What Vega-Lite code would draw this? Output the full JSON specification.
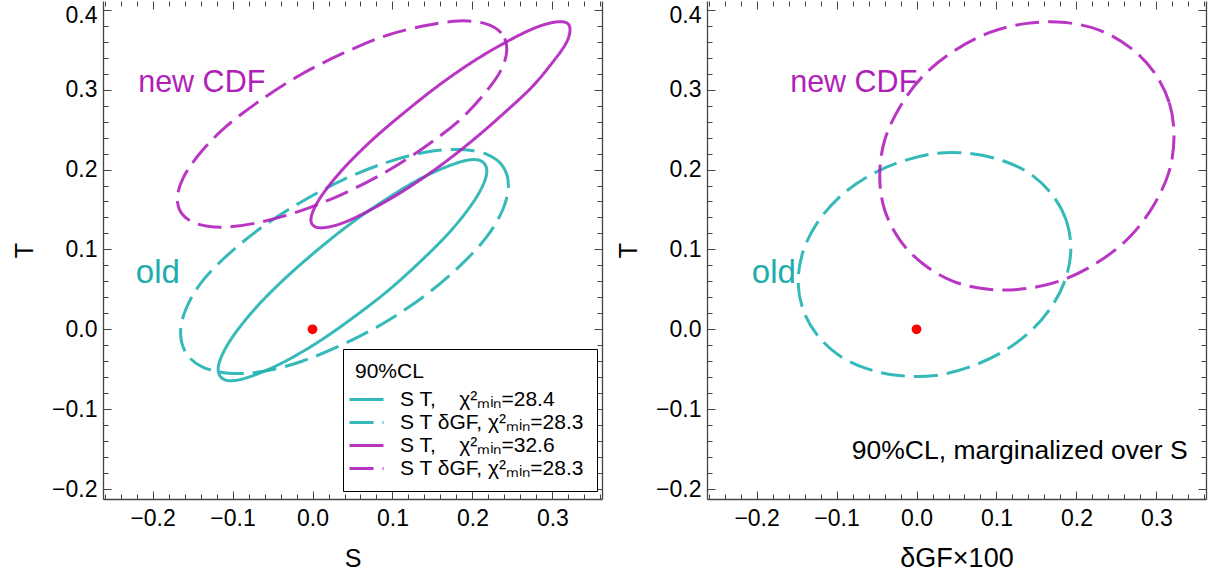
{
  "$schema": "https://vega.github.io/schema/vega-lite/v6.json",
  "padding": {"left": 12, "top": 0, "right": 5, "bottom": 5},
  "background": "white",
  "bounds": "flush",
  "spacing": 105,
  "config": {
    "font": "Liberation Sans",
    "view": {"stroke": null},
    "axis": {"domainColor": "#444444", "tickColor": "#444444", "domainWidth": 1.3, "tickWidth": 1, "labelColor": "black", "labelFontSize": 23, "titleFontSize": 25, "titleFontWeight": "normal", "titleColor": "black", "grid": false, "labelFlush": false, "labelOverlap": false}
  },
  "resolve": {"scale": {"x": "independent", "y": "independent"}},
  "datasets": {
    "left": [
      {"s":"ST_old","i":0,"S":0.218,"T":0.198},{"s":"ST_old","i":1,"S":0.212,"T":0.210},{"s":"ST_old","i":2,"S":0.196,"T":0.212},{"s":"ST_old","i":3,"S":0.169,"T":0.204},{"s":"ST_old","i":4,"S":0.134,"T":0.188},{"s":"ST_old","i":5,"S":0.094,"T":0.164},{"s":"ST_old","i":6,"S":0.050,"T":0.134},{"s":"ST_old","i":7,"S":0.007,"T":0.100},{"s":"ST_old","i":8,"S":-0.034,"T":0.064},{"s":"ST_old","i":9,"S":-0.069,"T":0.029},{"s":"ST_old","i":10,"S":-0.096,"T":-0.004},{"s":"ST_old","i":11,"S":-0.112,"T":-0.030},{"s":"ST_old","i":12,"S":-0.118,"T":-0.050},{"s":"ST_old","i":13,"S":-0.112,"T":-0.062},{"s":"ST_old","i":14,"S":-0.096,"T":-0.064},{"s":"ST_old","i":15,"S":-0.069,"T":-0.056},{"s":"ST_old","i":16,"S":-0.034,"T":-0.040},{"s":"ST_old","i":17,"S":0.007,"T":-0.016},{"s":"ST_old","i":18,"S":0.050,"T":0.014},{"s":"ST_old","i":19,"S":0.094,"T":0.048},{"s":"ST_old","i":20,"S":0.134,"T":0.084},{"s":"ST_old","i":21,"S":0.169,"T":0.119},{"s":"ST_old","i":22,"S":0.196,"T":0.152},{"s":"ST_old","i":23,"S":0.212,"T":0.178},
      {"s":"STG_old","i":0,"S":0.245,"T":0.180},{"s":"STG_old","i":1,"S":0.238,"T":0.204},{"s":"STG_old","i":2,"S":0.218,"T":0.219},{"s":"STG_old","i":3,"S":0.185,"T":0.225},{"s":"STG_old","i":4,"S":0.143,"T":0.222},{"s":"STG_old","i":5,"S":0.093,"T":0.209},{"s":"STG_old","i":6,"S":0.040,"T":0.188},{"s":"STG_old","i":7,"S":-0.013,"T":0.160},{"s":"STG_old","i":8,"S":-0.063,"T":0.128},{"s":"STG_old","i":9,"S":-0.105,"T":0.094},{"s":"STG_old","i":10,"S":-0.138,"T":0.060},{"s":"STG_old","i":11,"S":-0.158,"T":0.026},{"s":"STG_old","i":12,"S":-0.165,"T":-0.004},{"s":"STG_old","i":13,"S":-0.158,"T":-0.030},{"s":"STG_old","i":14,"S":-0.138,"T":-0.047},{"s":"STG_old","i":15,"S":-0.105,"T":-0.055},{"s":"STG_old","i":16,"S":-0.063,"T":-0.053},{"s":"STG_old","i":17,"S":-0.013,"T":-0.040},{"s":"STG_old","i":18,"S":0.040,"T":-0.018},{"s":"STG_old","i":19,"S":0.093,"T":0.010},{"s":"STG_old","i":20,"S":0.143,"T":0.044},{"s":"STG_old","i":21,"S":0.185,"T":0.080},{"s":"STG_old","i":22,"S":0.218,"T":0.116},{"s":"STG_old","i":23,"S":0.238,"T":0.150},
      {"s":"ST_new","i":0,"S":0.322,"T":0.375},{"s":"ST_new","i":1,"S":0.317,"T":0.384},{"s":"ST_new","i":2,"S":0.300,"T":0.384},{"s":"ST_new","i":3,"S":0.275,"T":0.376},{"s":"ST_new","i":4,"S":0.241,"T":0.359},{"s":"ST_new","i":5,"S":0.202,"T":0.336},{"s":"ST_new","i":6,"S":0.160,"T":0.307},{"s":"ST_new","i":7,"S":0.118,"T":0.274},{"s":"ST_new","i":8,"S":0.079,"T":0.241},{"s":"ST_new","i":9,"S":0.045,"T":0.208},{"s":"ST_new","i":10,"S":0.020,"T":0.179},{"s":"ST_new","i":11,"S":0.004,"T":0.155},{"s":"ST_new","i":12,"S":-0.002,"T":0.137},{"s":"ST_new","i":13,"S":0.004,"T":0.128},{"s":"ST_new","i":14,"S":0.020,"T":0.128},{"s":"ST_new","i":15,"S":0.045,"T":0.136},{"s":"ST_new","i":16,"S":0.079,"T":0.153},{"s":"ST_new","i":17,"S":0.118,"T":0.176},{"s":"ST_new","i":18,"S":0.160,"T":0.205},{"s":"ST_new","i":19,"S":0.202,"T":0.238},{"s":"ST_new","i":20,"S":0.241,"T":0.272},{"s":"ST_new","i":21,"S":0.275,"T":0.304},{"s":"ST_new","i":22,"S":0.300,"T":0.334},{"s":"ST_new","i":23,"S":0.317,"T":0.358},
      {"s":"STG_new","i":0,"S":0.243,"T":0.351},{"s":"STG_new","i":1,"S":0.236,"T":0.371},{"s":"STG_new","i":2,"S":0.215,"T":0.383},{"s":"STG_new","i":3,"S":0.183,"T":0.386},{"s":"STG_new","i":4,"S":0.140,"T":0.380},{"s":"STG_new","i":5,"S":0.090,"T":0.367},{"s":"STG_new","i":6,"S":0.037,"T":0.345},{"s":"STG_new","i":7,"S":-0.016,"T":0.318},{"s":"STG_new","i":8,"S":-0.066,"T":0.286},{"s":"STG_new","i":9,"S":-0.109,"T":0.253},{"s":"STG_new","i":10,"S":-0.141,"T":0.220},{"s":"STG_new","i":11,"S":-0.162,"T":0.189},{"s":"STG_new","i":12,"S":-0.169,"T":0.163},{"s":"STG_new","i":13,"S":-0.162,"T":0.143},{"s":"STG_new","i":14,"S":-0.141,"T":0.131},{"s":"STG_new","i":15,"S":-0.109,"T":0.128},{"s":"STG_new","i":16,"S":-0.066,"T":0.134},{"s":"STG_new","i":17,"S":-0.016,"T":0.148},{"s":"STG_new","i":18,"S":0.037,"T":0.169},{"s":"STG_new","i":19,"S":0.090,"T":0.196},{"s":"STG_new","i":20,"S":0.140,"T":0.228},{"s":"STG_new","i":21,"S":0.183,"T":0.261},{"s":"STG_new","i":22,"S":0.215,"T":0.295},{"s":"STG_new","i":23,"S":0.236,"T":0.325}
    ],
    "right": [
      {"s":"old","i":0,"dG":0.193,"T":0.102},{"s":"old","i":1,"dG":0.187,"T":0.137},{"s":"old","i":2,"dG":0.170,"T":0.168},{"s":"old","i":3,"dG":0.143,"T":0.194},{"s":"old","i":4,"dG":0.108,"T":0.211},{"s":"old","i":5,"dG":0.067,"T":0.220},{"s":"old","i":6,"dG":0.023,"T":0.220},{"s":"old","i":7,"dG":-0.022,"T":0.209},{"s":"old","i":8,"dG":-0.063,"T":0.190},{"s":"old","i":9,"dG":-0.098,"T":0.164},{"s":"old","i":10,"dG":-0.125,"T":0.132},{"s":"old","i":11,"dG":-0.142,"T":0.097},{"s":"old","i":12,"dG":-0.148,"T":0.060},{"s":"old","i":13,"dG":-0.142,"T":0.025},{"s":"old","i":14,"dG":-0.125,"T":-0.006},{"s":"old","i":15,"dG":-0.098,"T":-0.032},{"s":"old","i":16,"dG":-0.063,"T":-0.049},{"s":"old","i":17,"dG":-0.022,"T":-0.058},{"s":"old","i":18,"dG":0.023,"T":-0.058},{"s":"old","i":19,"dG":0.067,"T":-0.047},{"s":"old","i":20,"dG":0.108,"T":-0.028},{"s":"old","i":21,"dG":0.143,"T":-0.002},{"s":"old","i":22,"dG":0.170,"T":0.030},{"s":"old","i":23,"dG":0.187,"T":0.065},
      {"s":"new","i":0,"dG":0.322,"T":0.242},{"s":"new","i":1,"dG":0.316,"T":0.284},{"s":"new","i":2,"dG":0.297,"T":0.322},{"s":"new","i":3,"dG":0.268,"T":0.352},{"s":"new","i":4,"dG":0.230,"T":0.374},{"s":"new","i":5,"dG":0.186,"T":0.384},{"s":"new","i":6,"dG":0.138,"T":0.383},{"s":"new","i":7,"dG":0.090,"T":0.371},{"s":"new","i":8,"dG":0.046,"T":0.348},{"s":"new","i":9,"dG":0.008,"T":0.317},{"s":"new","i":10,"dG":-0.021,"T":0.278},{"s":"new","i":11,"dG":-0.040,"T":0.236},{"s":"new","i":12,"dG":-0.046,"T":0.192},{"s":"new","i":13,"dG":-0.040,"T":0.150},{"s":"new","i":14,"dG":-0.021,"T":0.112},{"s":"new","i":15,"dG":0.008,"T":0.082},{"s":"new","i":16,"dG":0.046,"T":0.060},{"s":"new","i":17,"dG":0.090,"T":0.050},{"s":"new","i":18,"dG":0.138,"T":0.051},{"s":"new","i":19,"dG":0.186,"T":0.063},{"s":"new","i":20,"dG":0.230,"T":0.086},{"s":"new","i":21,"dG":0.268,"T":0.117},{"s":"new","i":22,"dG":0.297,"T":0.156},{"s":"new","i":23,"dG":0.316,"T":0.198}
    ]
  },
  "hconcat": [
    {
      "width": 499,
      "height": 498,
      "data": {"name": "left"},
      "resolve": {"axis": {"x": "independent", "y": "independent"}},
      "layer": [
        {
          "mark": {"type": "line", "interpolate": "cardinal-closed", "strokeWidth": 3, "opacity": 0.9},
          "encoding": {
            "x": {"field": "S", "type": "quantitative", "scale": {"domain": [-0.262, 0.362], "nice": false, "zero": false},
              "axis": {"orient": "bottom", "values": [-0.26,-0.24,-0.22,-0.2,-0.18,-0.16,-0.14,-0.12,-0.1,-0.08,-0.06,-0.04,-0.02,0,0.02,0.04,0.06,0.08,0.1,0.12,0.14,0.16,0.18,0.2,0.22,0.24,0.26,0.28,0.3,0.32,0.34,0.36],
                "title": "S", "titleY": 67, "titleBaseline": "alphabetic",
                "labelExpr": "abs(datum.value*10-round(datum.value*10))<0.001 ? format(datum.value,'.1f') : ''",
                "labelPadding": 16,
                "tickSize": {"condition": {"test": "abs(datum.value*10-round(datum.value*10))<0.001", "value": -8}, "value": -5}}},
            "y": {"field": "T", "type": "quantitative", "scale": {"domain": [-0.2125, 0.411], "nice": false, "zero": false},
              "axis": {"orient": "left", "values": [-0.2,-0.18,-0.16,-0.14,-0.12,-0.1,-0.08,-0.06,-0.04,-0.02,0,0.02,0.04,0.06,0.08,0.1,0.12,0.14,0.16,0.18,0.2,0.22,0.24,0.26,0.28,0.3,0.32,0.34,0.36,0.38,0.4],
                "title": "T", "titleX": -71, "titleAngle": 270, "titleBaseline": "alphabetic",
                "labelExpr": "abs(datum.value*10-round(datum.value*10))<0.001 ? format(datum.value,'.1f') : ''",
                "labelPadding": 14,
                "labelOffset": {"condition": {"test": "datum.value > 0.39", "value": 6}, "value": 0},
                "tickSize": {"condition": {"test": "abs(datum.value*10-round(datum.value*10))<0.001", "value": -8}, "value": -5}}},
            "color": {"field": "s", "type": "nominal",
              "scale": {"domain": ["ST_old", "STG_old", "ST_new", "STG_new"], "range": ["#1fb1b1", "#1fb1b1", "#b020bd", "#b020bd"]},
              "legend": {"title": "90%CL", "orient": "none", "legendX": 240, "legendY": 348,
                "symbolType": "M-1.7,0H1.7", "symbolSize": 400, "symbolStrokeWidth": 3,
                "labelExpr": "datum.value=='ST_old' ? 'S T,\u00a0\u00a0\u00a0 \u03c7\u00b2\u2098\u1d62\u2099=28.4' : datum.value=='STG_old' ? 'S T \u03b4GF, \u03c7\u00b2\u2098\u1d62\u2099=28.3' : datum.value=='ST_new' ? 'S T,\u00a0\u00a0\u00a0 \u03c7\u00b2\u2098\u1d62\u2099=32.6' : 'S T \u03b4GF, \u03c7\u00b2\u2098\u1d62\u2099=28.3'",
                "labelFontSize": 21, "labelLimit": 400, "labelOffset": 22,
                "titleFontSize": 21, "titleFontWeight": "normal", "titleColor": "black", "titlePadding": 6,
                "padding": 12, "strokeColor": "black", "fillColor": "white", "rowPadding": 1, "cornerRadius": 0,
                "encode": {"labels": {"update": {"fill": {"signal": "indexof(datum.value,'old')>=0 ? '#1eacac' : '#ad1db5'"}}},
                           "symbols": {"update": {"strokeDash": {"signal": "indexof(datum.value,'STG')==0 ? [8,4] : [1,0]"}}}}}},
            "strokeDash": {"field": "s", "type": "nominal",
              "scale": {"domain": ["ST_old", "STG_old", "ST_new", "STG_new"], "range": [[1,0],[24,9],[1,0],[24,9]]},
              "legend": {"title": "90%CL", "orient": "none", "legendX": 240, "legendY": 348,
                "symbolType": "M-1.7,0H1.7", "symbolSize": 400, "symbolStrokeWidth": 3,
                "labelExpr": "datum.value=='ST_old' ? 'S T,\u00a0\u00a0\u00a0 \u03c7\u00b2\u2098\u1d62\u2099=28.4' : datum.value=='STG_old' ? 'S T \u03b4GF, \u03c7\u00b2\u2098\u1d62\u2099=28.3' : datum.value=='ST_new' ? 'S T,\u00a0\u00a0\u00a0 \u03c7\u00b2\u2098\u1d62\u2099=32.6' : 'S T \u03b4GF, \u03c7\u00b2\u2098\u1d62\u2099=28.3'",
                "labelFontSize": 21, "labelLimit": 400, "labelOffset": 22,
                "titleFontSize": 21, "titleFontWeight": "normal", "titleColor": "black", "titlePadding": 6,
                "padding": 12, "strokeColor": "black", "fillColor": "white", "rowPadding": 1, "cornerRadius": 0}},
            "order": {"field": "i", "type": "quantitative"}
          }
        },
        {
          "data": {"values": [{"S": 0, "T": 0}]},
          "mark": {"type": "point", "filled": true, "color": "red", "size": 95, "opacity": 1},
          "encoding": {
            "x": {"field": "S", "type": "quantitative",
              "axis": {"orient": "top", "domain": false, "values": [-0.26,-0.24,-0.22,-0.2,-0.18,-0.16,-0.14,-0.12,-0.1,-0.08,-0.06,-0.04,-0.02,0,0.02,0.04,0.06,0.08,0.1,0.12,0.14,0.16,0.18,0.2,0.22,0.24,0.26,0.28,0.3,0.32,0.34,0.36],
                "labels": false, "title": null,
                "tickSize": {"condition": {"test": "abs(datum.value*10-round(datum.value*10))<0.001", "value": -8}, "value": -5}}},
            "y": {"field": "T", "type": "quantitative",
              "axis": {"orient": "right", "values": [-0.2,-0.18,-0.16,-0.14,-0.12,-0.1,-0.08,-0.06,-0.04,-0.02,0,0.02,0.04,0.06,0.08,0.1,0.12,0.14,0.16,0.18,0.2,0.22,0.24,0.26,0.28,0.3,0.32,0.34,0.36,0.38,0.4],
                "labels": false, "title": null,
                "tickSize": {"condition": {"test": "abs(datum.value*10-round(datum.value*10))<0.001", "value": -8}, "value": -5}}}
          }
        },
        {
          "data": {"values": [{"t": "new CDF"}]},
          "mark": {"type": "text", "align": "left", "baseline": "middle", "fontSize": 30.5, "color": "#b11fb9"},
          "encoding": {"x": {"datum": -0.218, "type": "quantitative", "axis": null}, "y": {"datum": 0.3085, "type": "quantitative", "axis": null}, "text": {"field": "t"}}
        },
        {
          "data": {"values": [{"t": "old"}]},
          "mark": {"type": "text", "align": "left", "baseline": "middle", "fontSize": 33, "color": "#1eacac"},
          "encoding": {"x": {"datum": -0.221, "type": "quantitative", "axis": null}, "y": {"datum": 0.0705, "type": "quantitative", "axis": null}, "text": {"field": "t"}}
        }
      ]
    },
    {
      "width": 499,
      "height": 498,
      "data": {"name": "right"},
      "resolve": {"axis": {"x": "independent", "y": "independent"}},
      "layer": [
        {
          "transform": [{"filter": "datum.s == 'old'"}],
          "mark": {"type": "line", "interpolate": "cardinal-closed", "strokeWidth": 3, "opacity": 0.9, "color": "#1fb1b1", "strokeDash": [24, 9]},
          "encoding": {
            "x": {"field": "dG", "type": "quantitative", "scale": {"domain": [-0.262, 0.362], "nice": false, "zero": false},
              "axis": {"orient": "bottom", "values": [-0.26,-0.24,-0.22,-0.2,-0.18,-0.16,-0.14,-0.12,-0.1,-0.08,-0.06,-0.04,-0.02,0,0.02,0.04,0.06,0.08,0.1,0.12,0.14,0.16,0.18,0.2,0.22,0.24,0.26,0.28,0.3,0.32,0.34,0.36],
                "title": "\u03b4GF\u00d7100", "titleFontSize": 27, "titleY": 67, "titleBaseline": "alphabetic",
                "labelExpr": "abs(datum.value*10-round(datum.value*10))<0.001 ? format(datum.value,'.1f') : ''",
                "labelPadding": 16,
                "tickSize": {"condition": {"test": "abs(datum.value*10-round(datum.value*10))<0.001", "value": -8}, "value": -5}}},
            "y": {"field": "T", "type": "quantitative", "scale": {"domain": [-0.2125, 0.411], "nice": false, "zero": false},
              "axis": {"orient": "left", "values": [-0.2,-0.18,-0.16,-0.14,-0.12,-0.1,-0.08,-0.06,-0.04,-0.02,0,0.02,0.04,0.06,0.08,0.1,0.12,0.14,0.16,0.18,0.2,0.22,0.24,0.26,0.28,0.3,0.32,0.34,0.36,0.38,0.4],
                "title": "T", "titleX": -71, "titleAngle": 270, "titleBaseline": "alphabetic",
                "labelExpr": "abs(datum.value*10-round(datum.value*10))<0.001 ? format(datum.value,'.1f') : ''",
                "labelPadding": 14,
                "labelOffset": {"condition": {"test": "datum.value > 0.39", "value": 6}, "value": 0},
                "tickSize": {"condition": {"test": "abs(datum.value*10-round(datum.value*10))<0.001", "value": -8}, "value": -5}}},
            "order": {"field": "i", "type": "quantitative"}
          }
        },
        {
          "transform": [{"filter": "datum.s == 'new'"}],
          "mark": {"type": "line", "interpolate": "cardinal-closed", "strokeWidth": 3, "opacity": 0.9, "color": "#b020bd", "strokeDash": [24, 9]},
          "encoding": {
            "x": {"field": "dG", "type": "quantitative", "axis": null},
            "y": {"field": "T", "type": "quantitative", "axis": null},
            "order": {"field": "i", "type": "quantitative"}
          }
        },
        {
          "data": {"values": [{"dG": 0, "T": 0}]},
          "mark": {"type": "point", "filled": true, "color": "red", "size": 95, "opacity": 1},
          "encoding": {
            "x": {"field": "dG", "type": "quantitative",
              "axis": {"orient": "top", "domain": false, "values": [-0.26,-0.24,-0.22,-0.2,-0.18,-0.16,-0.14,-0.12,-0.1,-0.08,-0.06,-0.04,-0.02,0,0.02,0.04,0.06,0.08,0.1,0.12,0.14,0.16,0.18,0.2,0.22,0.24,0.26,0.28,0.3,0.32,0.34,0.36],
                "labels": false, "title": null,
                "tickSize": {"condition": {"test": "abs(datum.value*10-round(datum.value*10))<0.001", "value": -8}, "value": -5}}},
            "y": {"field": "T", "type": "quantitative",
              "axis": {"orient": "right", "values": [-0.2,-0.18,-0.16,-0.14,-0.12,-0.1,-0.08,-0.06,-0.04,-0.02,0,0.02,0.04,0.06,0.08,0.1,0.12,0.14,0.16,0.18,0.2,0.22,0.24,0.26,0.28,0.3,0.32,0.34,0.36,0.38,0.4],
                "labels": false, "title": null,
                "tickSize": {"condition": {"test": "abs(datum.value*10-round(datum.value*10))<0.001", "value": -8}, "value": -5}}}
          }
        },
        {
          "data": {"values": [{"t": "new CDF"}]},
          "mark": {"type": "text", "align": "left", "baseline": "middle", "fontSize": 30.5, "color": "#b11fb9"},
          "encoding": {"x": {"datum": -0.158, "type": "quantitative", "axis": null}, "y": {"datum": 0.3085, "type": "quantitative", "axis": null}, "text": {"field": "t"}}
        },
        {
          "data": {"values": [{"t": "old"}]},
          "mark": {"type": "text", "align": "left", "baseline": "middle", "fontSize": 33, "color": "#1eacac"},
          "encoding": {"x": {"datum": -0.206, "type": "quantitative", "axis": null}, "y": {"datum": 0.0705, "type": "quantitative", "axis": null}, "text": {"field": "t"}}
        },
        {
          "data": {"values": [{"t": "90%CL, marginalized over S"}]},
          "mark": {"type": "text", "align": "right", "baseline": "middle", "fontSize": 26.5, "color": "black"},
          "encoding": {"x": {"datum": 0.339, "type": "quantitative", "axis": null}, "y": {"datum": -0.1525, "type": "quantitative", "axis": null}, "text": {"field": "t"}}
        }
      ]
    }
  ]
}
